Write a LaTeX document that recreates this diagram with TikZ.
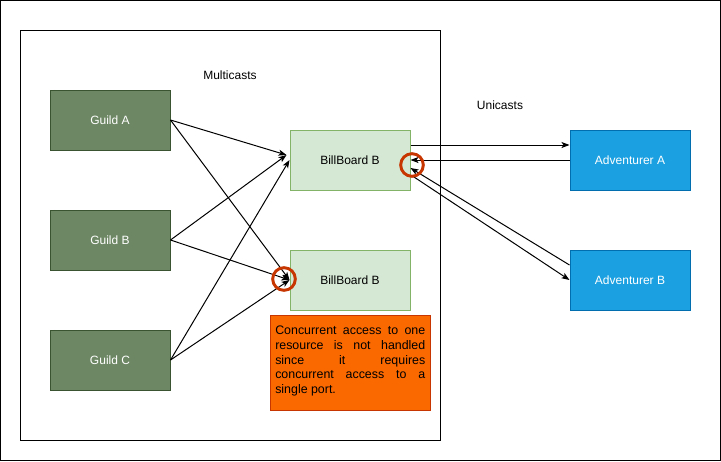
\documentclass[tikz,border=0pt]{standalone}
\usepackage{fontspec}
\setmainfont{Liberation Sans}
\usetikzlibrary{arrows.meta,calc}
\definecolor{guildfill}{HTML}{6D8764}
\definecolor{guildline}{HTML}{3A5431}
\definecolor{bbfill}{HTML}{D5E8D4}
\definecolor{bbline}{HTML}{82B366}
\definecolor{advfill}{HTML}{1BA1E2}
\definecolor{advline}{HTML}{006EAF}
\definecolor{notefill}{HTML}{FA6800}
\definecolor{noteline}{HTML}{C73500}
\begin{document}
\begin{tikzpicture}[x=0.75pt,y=-0.75pt,
  font=\fontsize{9pt}{10.5pt}\selectfont,
  box/.style={rectangle, minimum width=90pt, minimum height=45pt, inner sep=0pt, line width=0.75pt},
  guild/.style={box, fill=guildfill, draw=guildline, text=white},
  board/.style={box, fill=bbfill, draw=bbline},
  adv/.style={box, fill=advfill, draw=advline, text=white},
  frame/.style={draw=black, line width=0.75pt},
  conn/.style={line width=0.75pt, -{Stealth[length=6pt,width=4.5pt,inset=1.5pt]}},
  hl/.style={circle, draw=noteline, line width=2.2pt, minimum size=17pt, inner sep=0pt}
]
\useasboundingbox (0,0) rectangle (721,461);
\draw[frame] (0.5,0.5) rectangle (720.5,460.5);
\draw[frame] (20.5,30.5) rectangle (440.5,440.5);

\node (multi) at (230,75) {Multicasts};
\node (uni) at (500,105) {Unicasts};

\node[guild] (gA) at (110,120) {Guild A};
\node[guild] (gB) at (110,240) {Guild B};
\node[guild] (gC) at (110,360) {Guild C};

\node[board] (bb1) at (350,160) {BillBoard B};
\node[board] (bb2) at (350,280) {BillBoard B};

\node[adv] (advA) at (630,160) {Adventurer A};
\node[adv] (advB) at (630,280) {Adventurer B};

\node[rectangle, fill=notefill, draw=noteline, line width=0.75pt,
      minimum width=120pt, minimum height=71.25pt, inner sep=0pt, anchor=north west] (note) at (270,315) {};
\node[anchor=north west, inner sep=0pt, text width=112.5pt, align=justify,
      font=\fontsize{9.3pt}{11pt}\selectfont] (notetext) at (275,326)
  {Concurrent access to one\linebreak resource is not handled\linebreak since it requires\linebreak concurrent access to a\linebreak single port.};

\coordinate (t1) at ($(bb1.west)+(-3,-5)$);
\draw[conn] (gA.east) -- (t1);
\draw[conn] (gB.east) -- (t1);
\draw[conn] (gC.east) -- (bb1.west);
\draw[conn] (gA.east) -- (bb2.west);
\draw[conn] (gB.east) -- (bb2.west);
\draw[conn] (gC.east) -- (bb2.west);

\draw[conn] ($(bb1.east)+(0,-15)$) -- ($(advA.west)+(0,-15)$);
\draw[conn] (advA.west) -- (bb1.east);
\draw[conn] ($(advB.west)+(0,-15)$) -- ($(bb1.east)+(0,8)$);
\draw[conn] ($(bb1.east)+(2,16)$) -- (advB.west);

\node[hl] (c1) at (284,279) {};
\node[hl] (c2) at (412,165) {};
\end{tikzpicture}
\end{document}
